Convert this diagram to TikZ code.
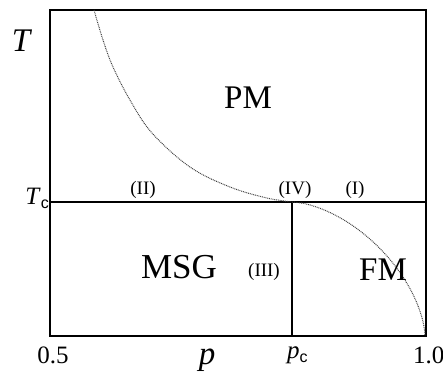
\documentclass[tikz,border=0pt]{standalone}
\usepackage{fontspec}
\setmainfont{Liberation Serif}
\newfontfamily\sansc{Liberation Sans}
\begin{document}
\begin{tikzpicture}[x=1pt,y=-1pt,
  frame/.style={line width=1.8pt,black},
  crit/.style={line width=1pt,dash pattern=on 0.9pt off 0.9pt,black!75},
  big/.style={font=\fontsize{33}{36}\selectfont,inner sep=0pt},
  reg/.style={font=\fontsize{19}{22}\selectfont,inner sep=0pt},
  tick/.style={font=\fontsize{25}{28}\selectfont,inner sep=0pt}]
\useasboundingbox (0,0) rectangle (443,378);
\coordinate (bl) at (50,336);
\coordinate (tr) at (426,10);
\coordinate (tcl) at (50,202);
\coordinate (tcr) at (426,202);
\coordinate (pct) at (292,202);
\coordinate (pcb) at (292,336);
\coordinate (cend) at (425,336);
\draw[frame] (bl) rectangle (tr);
\draw[frame] (tcl) -- (tcr);
\draw[frame] (pct) -- (pcb);
\draw[crit] plot[smooth,tension=0.6] coordinates {(94,10) (103,40) (113,67) (130,100) (152,133) (190,167) (230,187) (267,198) (292,202)}
  -- plot[domain=0.3:89.7,samples=80] ({292+133*sin(\x)^(1.2121)}, {336-134*cos(\x)^(1.2121)}) -- (cend);
\node[big] (PM) at (248,98) {PM};
\node[big,font=\fontsize{35}{38}\selectfont] (MSG) at (179,267) {MSG};
\node[big] (FM) at (383,270) {FM};
\node[reg] (II) at (143,190) {(II)};
\node[reg] (IV) at (295,190) {(IV)};
\node[reg] (I) at (355,190) {(I)};
\node[reg] (III) at (264,272) {(III)};
\node[big,font=\fontsize{33}{36}\selectfont\itshape] (Tlab) at (21,41) {T};
\node[tick,anchor=east] (Tc) at (49,198) {\textit{T}\raisebox{-0.35ex}{\sansc\fontsize{16}{18}\selectfont c}};
\node[big,font=\fontsize{33}{36}\selectfont\itshape] (plab) at (207,360) {p};
\node[tick] (half) at (53,355) {0.5};
\node[tick,anchor=west] (pc) at (287,355) {\textit{p}\raisebox{-0.35ex}{\sansc\fontsize{16}{18}\selectfont c}};
\node[tick,anchor=west] (one) at (413,355) {1.0};
\end{tikzpicture}
\end{document}
